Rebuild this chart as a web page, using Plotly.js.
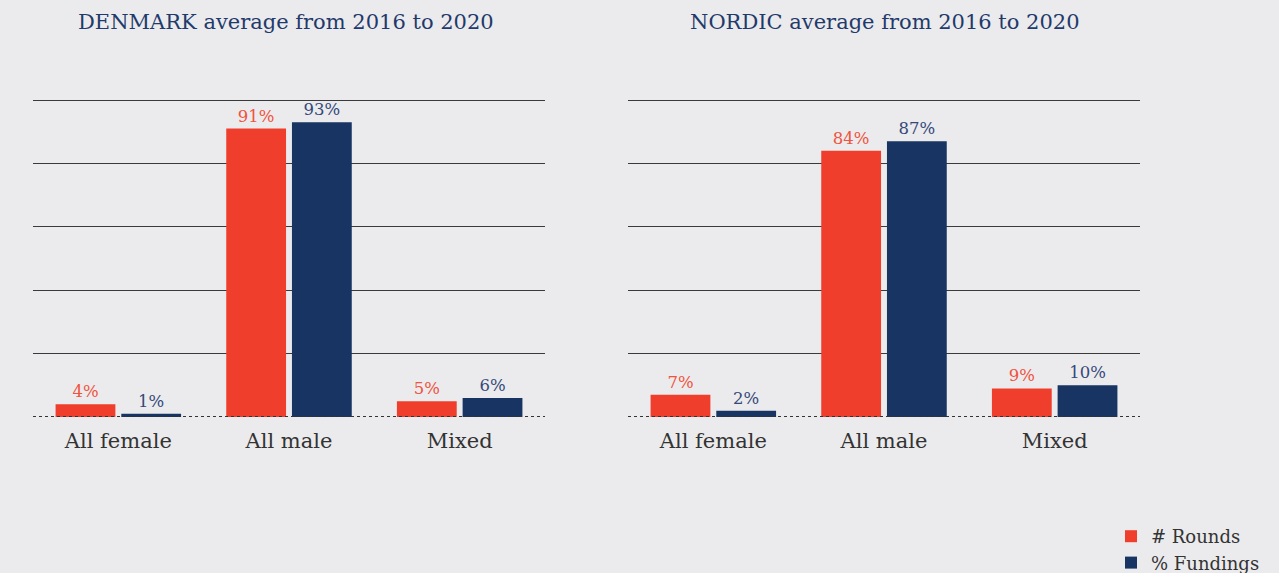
<!DOCTYPE html>
<html>
<head>
<meta charset="utf-8">
<script src="https://cdn.plot.ly/plotly-3.0.1.min.js"></script>
<style>html,body{margin:0;padding:0;background:#ebebed;}#chart{width:1279px;height:573px;}</style>
</head>
<body>
<div id="chart"></div>
<script>
const categories = ["All female", "All male", "Mixed"];
const seriesNames = ["# Rounds", "% Fundings"];
const denmarkRounds = [4, 91, 5];
const denmarkFundings = [1, 93, 6];
const nordicRounds = [7, 84, 9];
const nordicFundings = [2, 87, 10];
const panelTitles = ["DENMARK average from 2016 to 2020", "NORDIC average from 2016 to 2020"];

const RED = "#ef3e2b", BLUE = "#173462";
const RED_T = "#f0533f", BLUE_T = "#34497a";
const FONT = "DejaVu Serif, serif";

function barTrace(vals, name, color, tcolor, xa, ya, show) {
  return {
    type: "bar", x: categories, y: vals, name: name,
    marker: {color: color}, xaxis: xa, yaxis: ya, showlegend: show,
    legendgroup: name,
    text: vals.map(v => v + "%"), textposition: "outside",
    textfont: {family: FONT, size: 16.5, color: tcolor},
    cliponaxis: false, hoverinfo: "x+y+name"
  };
}

const data = [
  barTrace(denmarkRounds, seriesNames[0], RED, RED_T, "x", "y", true),
  barTrace(denmarkFundings, seriesNames[1], BLUE, BLUE_T, "x", "y", true),
  barTrace(nordicRounds, seriesNames[0], RED, RED_T, "x2", "y2", false),
  barTrace(nordicFundings, seriesNames[1], BLUE, BLUE_T, "x2", "y2", false)
];

const W = 1279, H = 573;
// plot area: value 0 at y=417px, value 100 at y=100px; range extends to 103
const pxPerUnit = (417 - 100) / 100;
const yTopPx = 100 - 3 * pxPerUnit;
const yDom = [1 - 417 / H, 1 - yTopPx / H];
const xAx = (dom) => ({
  domain: dom, showgrid: false, zeroline: false, showline: false, ticks: "",
  tickfont: {family: FONT, size: 21, color: "#333333"}, ticklabelstandoff: 9,
  fixedrange: true, automargin: false
});
const yAx = (anchor) => ({
  domain: yDom, range: [0, 103], tickvals: [20, 40, 60, 80, 100],
  showticklabels: false, showgrid: true, gridcolor: "#3a3a3a", gridwidth: 1,
  zeroline: false, showline: false, anchor: anchor, fixedrange: true, automargin: false
});

const layout = {
  width: W, height: H,
  margin: {l: 0, r: 0, t: 0, b: 0, pad: 0, autoexpand: false},
  paper_bgcolor: "#ebebed", plot_bgcolor: "#ebebed",
  barmode: "group", bargap: 0.23, bargroupgap: 0.09,
  xaxis: Object.assign(xAx([33 / W, 545 / W]), {anchor: "y"}),
  yaxis: yAx("x"),
  xaxis2: Object.assign(xAx([628 / W, 1140 / W]), {anchor: "y2"}),
  yaxis2: yAx("x2"),
  showlegend: true,
  legend: {
    x: 1111 / W, xanchor: "left", y: -8 / H, yanchor: "bottom",
    font: {family: FONT, size: 18, color: "#333333"},
    bgcolor: "rgba(0,0,0,0)", tracegroupgap: 0, itemwidth: 30
  },
  annotations: [
    {text: panelTitles[0], xref: "paper", yref: "paper", x: 286 / W, y: 1 - 22 / H,
     xanchor: "center", yanchor: "middle", showarrow: false,
     font: {family: FONT, size: 21, color: "#1f3a6b"}},
    {text: panelTitles[1], xref: "paper", yref: "paper", x: 885 / W, y: 1 - 22 / H,
     xanchor: "center", yanchor: "middle", showarrow: false,
     font: {family: FONT, size: 21, color: "#1f3a6b"}}
  ],
  shapes: [
    {type: "line", xref: "x domain", yref: "y", x0: 0, x1: 1, y0: 0, y1: 0,
     line: {color: "#333333", width: 2, dash: "dot"}},
    {type: "line", xref: "x2 domain", yref: "y2", x0: 0, x1: 1, y0: 0, y1: 0,
     line: {color: "#333333", width: 2, dash: "dot"}}
  ]
};

Plotly.newPlot("chart", data, layout, {displayModeBar: false, staticPlot: true});
</script>
</body>
</html>
